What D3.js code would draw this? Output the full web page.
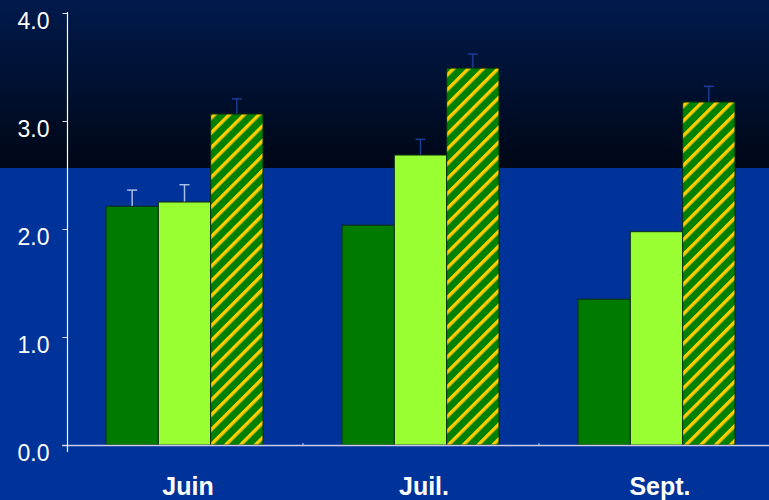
<!DOCTYPE html>
<html><head><meta charset="utf-8">
<script src="https://cdn.jsdelivr.net/npm/d3@7"></script>
<style>html,body{margin:0;padding:0;background:#003399;}svg{display:block;}</style>
</head><body>
<script>
const categories = ["Juin", "Juil.", "Sept."];
const seriesNames = ["s1", "s2", "s3"];
const series1 = [2.21, 2.035, 1.35];
const series2 = [2.25, 2.685, 1.975];
const series3 = [3.065, 3.49, 3.176];
const err1 = [0.15, null, null];
const err2 = [0.16, 0.145, null];
const err3 = [0.14, 0.13, 0.145];
const yTicks = [0, 1, 2, 3, 4];
const yTickLabels = ["0.0", "1.0", "2.0", "3.0", "4.0"];

const W = 769, H = 500;
const svg = d3.select("body").append("svg").attr("width", W).attr("height", H);
const defs = svg.append("defs");

const grad = defs.append("linearGradient").attr("id", "topGrad").attr("x1", 0).attr("y1", 0).attr("x2", 0).attr("y2", 1);
grad.append("stop").attr("offset", "0%").attr("stop-color", "#001a4c");
grad.append("stop").attr("offset", "100%").attr("stop-color", "#000716");

const pat = defs.append("pattern").attr("id", "hatch").attr("patternUnits", "userSpaceOnUse")
  .attr("width", 10.5).attr("height", 10.5).attr("patternTransform", "rotate(45)");
pat.append("rect").attr("width", 10.5).attr("height", 10.5).attr("fill", "#008000");
pat.append("rect").attr("x", 0).attr("width", 3.4).attr("height", 10.5).attr("fill", "#ffcc00");

const splitY = 168;
defs.append("clipPath").attr("id", "clipTop").append("rect").attr("x", 0).attr("y", 0).attr("width", W).attr("height", splitY);
defs.append("clipPath").attr("id", "clipBot").append("rect").attr("x", 0).attr("y", splitY).attr("width", W).attr("height", H - splitY);

svg.append("rect").attr("x", 0).attr("y", 0).attr("width", W).attr("height", H).attr("fill", "#003399");
svg.append("rect").attr("x", 0).attr("y", 0).attr("width", W).attr("height", splitY).attr("fill", "url(#topGrad)");

const y = d3.scaleLinear().domain([0, 4]).range([445, 13]);
const x0 = d3.scaleBand().domain(categories).range([67, 775]).paddingInner(0).paddingOuter(0);
const x1 = d3.scaleBand().domain(seriesNames).range([39, 196]).padding(0);

const fills = ["#007a00", "#99ff33", "url(#hatch)"];
const vals = [series1, series2, series3];
const errs = [err1, err2, err3];

const data = [];
categories.forEach((c, i) => {
  seriesNames.forEach((s, j) => {
    data.push({c, s, v: vals[j][i], e: errs[j][i], fill: fills[j]});
  });
});

function drawErr(clip, color) {
  const g = svg.append("g").attr("clip-path", `url(#${clip})`);
  data.filter(d => d.e != null).forEach(d => {
    const cx = x0(d.c) + x1(d.s) + x1.bandwidth() / 2;
    g.append("line").attr("x1", cx).attr("x2", cx).attr("y1", y(d.v)).attr("y2", y(d.v + d.e))
      .attr("stroke", color).attr("stroke-width", 1.5);
    g.append("line").attr("x1", cx - 5).attr("x2", cx + 5).attr("y1", y(d.v + d.e)).attr("y2", y(d.v + d.e))
      .attr("stroke", color).attr("stroke-width", 1.5);
  });
}
drawErr("clipTop", "#1a3c94");
drawErr("clipBot", "#a8bce8");

svg.append("g").selectAll("rect").data(data).join("rect")
  .attr("x", d => x0(d.c) + x1(d.s))
  .attr("y", d => y(d.v))
  .attr("width", x1.bandwidth())
  .attr("height", d => y(0) - y(d.v))
  .attr("fill", d => d.fill)
  .attr("stroke", "#0a2a14")
  .attr("stroke-width", 1);

svg.append("line").attr("x1", 62).attr("x2", W).attr("y1", 445.5).attr("y2", 445.5)
  .attr("stroke", "#c8cce8").attr("stroke-width", 1.3);
categories.slice(1).forEach(c => {
  svg.append("line").attr("x1", x0(c)).attr("x2", x0(c)).attr("y1", 443).attr("y2", 446)
    .attr("stroke", "#c8cce8").attr("stroke-width", 1);
});

const yAxis = d3.axisLeft(y).tickValues(yTicks).tickFormat((d, i) => yTickLabels[i]).tickSize(5).tickPadding(13);
const ga = svg.append("g").attr("transform", "translate(67.5,0)").call(yAxis);
ga.select(".domain").remove();
ga.selectAll(".tick line").attr("stroke", "#d8dcf0").attr("stroke-width", 1);
ga.selectAll(".tick text").attr("fill", "#ffffff").attr("font-family", "Liberation Sans, Arial, sans-serif")
  .attr("font-size", 23).attr("dy", "0.68em");
svg.append("line").attr("x1", 67.5).attr("x2", 67.5).attr("y1", 12).attr("y2", 452)
  .attr("stroke", "#ffffff").attr("stroke-width", 1.2);

svg.append("g").selectAll("text").data(categories).join("text")
  .attr("x", d => x0(d) + x0.bandwidth() / 2 + 3)
  .attr("y", 495)
  .attr("text-anchor", "middle")
  .attr("fill", "#ffffff")
  .attr("font-family", "Liberation Sans, Arial, sans-serif")
  .attr("font-weight", "bold")
  .attr("font-size", 25)
  .text(d => d);
</script>
</body></html>
